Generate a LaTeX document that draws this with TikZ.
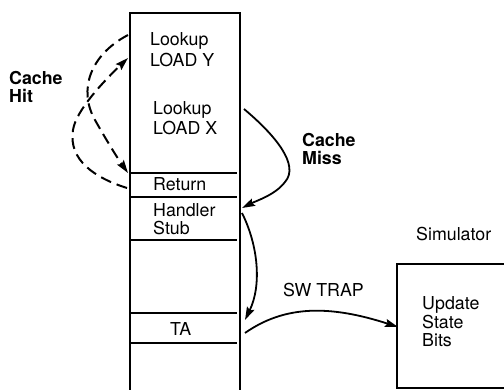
\documentclass[tikz,border=0pt]{standalone}
\usepackage{fontspec}
\setmainfont{TeX Gyre Heros}
\usetikzlibrary{arrows.meta}
\tikzset{
  lbl/.style={anchor=north west, inner sep=0pt, align=left},
  frame/.style={line width=1.9pt},
  sep/.style={line width=1.5pt},
  flow/.style={line width=1.8pt, -{Stealth[length=13pt,width=8pt,inset=2pt]}},
  hitflow/.style={flow, line width=2pt, dash pattern=on 11pt off 6pt},
}
\newcommand{\lskip}[1]{\fontsize{17.8}{#1}\selectfont}
\begin{document}
\begin{tikzpicture}[x=1pt,y=-1pt]
\useasboundingbox (0,0) rectangle (504,390);
\clip (0,0) rectangle (504,390);

% program memory column, open at the bottom
\draw[frame] (130,395) -- (130,13) -- (240,13) -- (240,395);
\foreach \yy in {173,197,240,313,343}
  \draw[sep] (130,\yy) -- (237,\yy);

% simulator box, running off the right edge
\draw[frame] (510,264) -- (397,264) -- (397,388) -- (510,388);

% labels
\node[lbl, font=\lskip{21}] (lookY) at (150,32.5) {Lookup\\LOAD Y};
\node[lbl, font=\lskip{19.5}] (lookX) at (153,101.5) {Lookup\\LOAD X};
\node[lbl, font=\lskip{20}] (ret) at (153,177.5) {Return};
\node[lbl, font=\lskip{18}] (hand) at (153,203.5) {Handler\\Stub};
\node[lbl, font=\lskip{20}] (ta) at (170,322.5) {TA};
\node[lbl, font=\lskip{17.5}\bfseries] (hit) at (9,71.5) {Cache\\Hit};
\node[lbl, font=\lskip{17.5}\bfseries] (miss) at (302,133.5) {Cache\\Miss};
\node[lbl, font=\lskip{20}] (sim) at (416,227.5) {Simulator};
\node[lbl, font=\lskip{20}] (trap) at (283,283.5) {SW TRAP};
\node[lbl, font=\lskip{18.5}] (upd) at (422,296.5) {Update\\State\\Bits};

% connector end points on the column and box edges
\coordinate (yOut) at (128,35);
\coordinate (yBack) at (128,58);
\coordinate (retIn) at (128,173);
\coordinate (retOut) at (127,188);
\coordinate (xOut) at (244,109);
\coordinate (handIn) at (242,208);
\coordinate (handOut) at (242,213);
\coordinate (taIn) at (245,320);
\coordinate (taOut) at (245,333);
\coordinate (simIn) at (398,327);

% cache hit path
\draw[hitflow] (yOut) .. controls (90,55) and (78,90) .. (95,120)
  .. controls (104,136) and (116,156) .. (retIn);
\draw[hitflow] (retOut) .. controls (95,178) and (68,160) .. (73,130)
  .. controls (76,110) and (105,80) .. (yBack);

% cache miss path
\draw[flow] (xOut) .. controls (275,135) and (300,165) .. (285,182)
  .. controls (275,195) and (258,200) .. (handIn);
\draw[flow] (handOut) .. controls (258,245) and (262,285) .. (taIn);
\draw[flow] (taOut) .. controls (285,305) and (330,305) .. (simIn);
\end{tikzpicture}
\end{document}
